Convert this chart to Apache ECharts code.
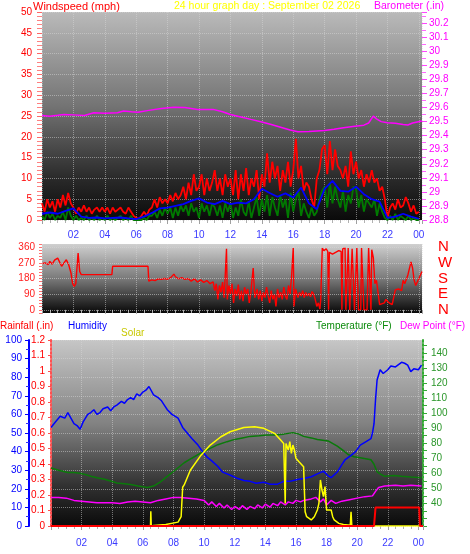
<!DOCTYPE html>
<html><head><meta charset="utf-8">
<script src="https://cdn.jsdelivr.net/npm/echarts@6/dist/echarts.min.js"></script>
<style>html,body{margin:0;padding:0;background:#fff}#c{width:470px;height:554px}</style>
</head><body><div id="c"></div><script>
// ---- data ----
// wind gust, sampled every 10 minutes from 00:00 to 24:00
const gustStepHours = 1/6;
const windGust = [
 4,2,5,3,4.5,2,  5,3,6,3.5,6.5,4,  3,1.5,3,2,3.5,2,  3,1.5,2.5,3,2,3,
 2,3,1.5,3,2,2.5,  3,2,1.5,3,2,1,  0.5,0.3,1,2,1,2.5,  3,5,3,5.5,4,5,
 4,6,4.5,6.5,5,6,  8,5,9,6,11,7,  8,11,6,10,7,9,  12,7,10,6,11,8,
 10,6,12,5,11,7,  12.5,6,10,8,12,5,  11,8,16,9,14,10,  13,7,12,9,14,8,
 12,19.5,10,13,7,9,  8,5,3,10,12,17,  18,11,19,12,17,13,  12,10,13,8,16.5,11,
 14,10,12,8,11,9,  12,9,10,7,8,5,  0.5,3,4,2.5,5,3,  3.5,5.5,4,2,3.5,1.5,  2];
// wind speed (green), every 10 minutes
const windSpeed = [
 1,0,2,0.5,1.5,0,  1,0.5,2,0,3,1,  0,1,0,0.5,0,1,  0,0.5,0,1,0,0.5,
 0,1,0,0.5,0,0.5,  1,0,0.5,0,1,0,  0,0,0,0.5,0,1,  1,2,0.5,2.5,1,3,
 1.5,3,0.5,3,1,3.5,  2,3.5,1,4,2,3,  0.5,4,2,3.5,1,4,  3,1,3.5,0.5,4,2,
 4,0.5,3,1,5,2,  1,4.5,0.5,3,5.5,1,  5,2,6,1,5.5,3,  1,6,3,5,0.5,6.5,
 2,5,7,1,4,2,  0.5,3,1,2,5,7,  8,3,9,4,8,5,  3,7,2,6,4,8,
 7.5,3,6,2,5,4,  3,5,1,4,2,0.5,  0,1,0,1.5,0,1,  0.5,0,1,0,0.5,0,  0];
// wind average (blue), every 30 minutes
const avgStepHours = 0.5;
const windAvg = [1.5,1.8,1.5,2.2,2.8,0.8,0.5,0.6,0.4,0.5,0.6,0.4,0.2,0.8,1.7,2.8,3.0,3.4,3.8,4.6,
 5.2,4.2,3.8,4.6,3.8,4.2,4.0,5.0,7.5,6.5,5.6,6.4,5.4,7.8,4.0,2.6,7.5,9.4,7.0,6.8,
 8.0,6.2,5.0,4.4,0.5,0.8,1.5,0.8,0.3];
const baroHours = [0,0.5,1,1.4,2,2.7,3.3,4,4.8,5.2,5.7,6.1,6.8,7.6,8.4,9.1,9.9,10.9,11.5,12,12.6,13.3,14,14.6,15.2,15.8,16.3,17,18,18.6,19.2,19.8,20.5,20.8,21.1,21.3,21.6,22,22.5,23,23.3,23.6,24.2];
const baroValues = [29.544,29.539,29.545,29.551,29.548,29.544,29.563,29.56,29.563,29.575,29.57,29.567,29.58,29.594,29.603,29.6,29.587,29.587,29.57,29.551,29.535,29.516,29.498,29.48,29.46,29.44,29.428,29.43,29.437,29.445,29.456,29.465,29.475,29.49,29.539,29.52,29.5,29.492,29.488,29.48,29.476,29.49,29.504];
const dirHours = [0,0.2,0.4,0.5,0.65,0.8,1.0,1.1,1.25,1.4,1.55,1.7,1.85,1.95,2.05,2.15,2.3,2.4,2.5,4.45,4.5,6.75,
 6.8,7.0,7.2,7.4,7.6,7.8,8.0,8.2,8.4,8.5,8.7,8.9,9.1,9.3,9.5,9.7,9.9,10.1,10.3,10.5,10.7,10.9,11.0,11.1,11.2,11.3,11.4,11.5,11.6,11.75,11.8,11.9,
 12.0,12.1,12.2,12.3,12.4,12.5,12.6,12.7,12.8,12.9,13.0,13.1,13.2,13.3,13.45,13.55,13.7,13.8,13.9,14.0,14.1,14.2,14.3,14.4,14.5,14.6,14.7,14.8,14.9,
 15.0,15.1,15.2,15.3,15.4,15.5,15.6,15.7,15.8,15.9,16.0,16.05,16.15,16.3,16.4,16.5,16.6,16.7,16.8,16.9,17.0,17.1,17.2,17.3,17.4,17.5,17.6,17.7,17.75,
 17.85,17.95,18.1,18.2,18.25,18.3,18.5,18.7,18.9,19.05,19.1,19.15,19.3,19.35,19.45,19.5,19.6,19.7,19.75,19.85,19.9,20.0,20.05,20.15,20.3,20.35,20.45,20.5,
 20.7,20.75,20.8,20.9,20.95,21.0,21.1,21.2,21.3,21.4,21.5,21.6,21.8,21.9,22.0,22.1,22.3,22.5,22.7,22.9,23.0,23.1,23.3,23.5,23.6,23.7,23.8,23.9,24.0,24.2];
const dirValues = [265,270,260,278,262,285,297,300,250,270,288,259,210,150,135,150,326,220,202,202,250,250,
 165,172,168,178,175,180,176,185,205,190,178,185,175,180,165,178,160,172,158,168,150,160,110,150,60,140,100,160,70,350,60,140,
 90,150,40,120,80,145,60,110,50,130,90,120,40,100,240,70,120,60,110,50,100,70,130,80,40,110,60,90,20,
 120,70,100,60,130,80,60,140,90,200,355,20,120,70,100,80,110,70,100,80,95,75,105,90,60,20,40,5,60,
 355,340,350,335,0,330,320,330,340,335,0,350,355,0,0,355,0,0,350,350,0,5,355,0,0,355,355,0,
 0,0,355,355,0,345,300,150,170,100,30,20,40,60,65,40,30,115,120,110,170,150,200,275,240,170,140,160,165,220];
const humHours = [0,0.3,0.6,0.9,1.1,1.3,1.5,1.7,1.9,2.1,2.4,2.6,2.8,3.0,3.2,3.4,3.7,3.9,4.1,4.3,4.6,4.8,5.0,5.2,5.4,5.6,5.8,6.0,6.2,6.4,6.5,6.7,7.0,7.2,7.4,7.6,7.9,8.3,8.6,8.9,9.2,9.6,9.9,10.2,10.5,10.9,11.2,11.5,11.8,12.2,12.6,13.0,13.4,13.9,14.3,14.8,15.2,15.6,16.1,16.5,17.0,17.4,17.8,18.1,18.3,18.7,19.0,19.2,19.6,19.9,20.2,20.5,20.9,21.0,21.1,21.2,21.3,21.5,21.7,21.8,22.0,22.2,22.5,22.9,23.1,23.3,23.5,23.7,24.0,24.2];
const humValues = [53,56,59,58,61,58,55,54,52,56,60,61,62.5,60,61,63,64,62,64,65,67,66,68,69,68,71,70,72,73,75,74,70.5,69,67.5,65,62.5,60,58,53,50,47,43.5,40,37,35,32,29,28,27,25.5,24.5,24,23,23.5,22.5,22.5,24,24,25,25.5,26.5,28,29.5,27,26,29,33,35.5,38,40,43.5,45,47,50,55,68,78.5,84,82,81,84,86,85.5,88,87.5,86.5,83,84.5,84,86.5];
const tempHours = [0,0.5,1.1,1.5,1.9,2.3,2.6,3.0,3.5,4.0,4.3,4.8,5.2,5.7,6.3,6.7,7.1,7.6,8.1,8.7,9.2,9.8,10.3,10.9,11.5,12.0,12.5,13.0,13.6,14.1,14.6,15.2,15.8,16.2,16.5,17.0,17.4,18.1,18.7,19.1,19.4,19.8,20.2,20.9,21.1,21.3,21.6,21.8,22.4,22.9,23.5,24.2];
const tempValues = [63.5,62,60.5,60.5,60,59,58,57,56,54.5,53.5,53,52.5,51.5,50.5,51.5,54,58,62,67,70,73.5,76,79,81,82.5,83.5,84.5,85,85.5,85.5,86,87,86,84.5,83.5,82.5,81.5,78,75,72.5,71,70.3,69,66,61,59,58,58.5,58,57.5,57];
const dewHours = [0,0.5,1,1.5,2,2.5,3,3.5,4,4.5,5,5.5,6,6.5,7,7.5,8,8.5,9,9.5,10,10.3,10.5,10.8,11,11.3,11.5,11.8,12,12.3,12.5,12.8,13,13.3,13.5,13.8,14,14.3,14.5,14.8,15,15.3,15.5,15.8,16,16.3,16.5,17,17.3,17.6,17.8,18,18.3,18.6,19,19.5,20,20.5,21,21.2,21.4,21.8,22.5,23,23.5,24.2];
const dewValues = [44,44,43.5,42,41.5,41,40.5,40.5,40.5,40,41,41.5,41,40.5,42,43,44,44,43.5,43,42,39,41,38,40,37,39,36,38,36,38.5,36,38,36.5,39,37,39.5,37.5,40,38.5,41,39,41,40,42,41,42,43,44,41,43,39,42,40,41.5,42.5,43.5,44.5,45,48,50.5,51.5,52,51.5,52,51.5];
const solarHours = [0,6.5,6.52,6.55,6.7,7.5,8.3,8.5,8.6,8.7,9.1,9.8,10.4,11.1,11.7,12.6,13.3,13.9,14.6,15.0,15.2,15.3,15.35,15.5,15.6,15.7,15.8,15.9,16.0,16.2,16.5,16.6,16.7,17.0,17.2,17.4,17.5,17.6,17.7,17.8,17.9,18.0,18.3,18.4,18.5,18.8,19.1,19.55,19.6,19.65,24.2];
const solarValues = [0,0,95,0,3,10,25,60,250,265,360,457,522,576,608,636,640,630,598,555,533,146,533,490,544,469,522,490,437,415,383,92,60,39,60,103,146,297,232,189,254,103,103,60,39,17,10,5,92,0,0];
const rainHours = [0,21.1,21.2,24.05,24.1,24.3];
const rainValues = [0,0,0.12,0.12,0,0];

// ---- helpers ----
const zip = (xs, ys) => xs.map((x, i) => [x, ys[i]]);
const stepped = (vals, step) => vals.map((v, i) => [i * step, v]);
const hourFmt = v => String(Math.round(v) % 24).padStart(2, '0');
const FONT = 'Liberation Sans, Arial, sans-serif';
const grad = stops => ({type:'linear', x:0, y:0, x2:0, y2:1, colorStops: stops.map(s => ({offset:s[0], color:s[1]}))});
const gridLine = {show:true, lineStyle:{color:'rgba(215,215,215,0.5)', type:'dotted', width:1}};

function xAx(gi, max, showLabel, margin) {
  return {type:'value', gridIndex:gi, min:0, max:max, interval:2,
    axisLine:{show:false},
    axisTick:{show:true, length:4, lineStyle:{color:'#a0a0a0'}},
    minorTick:{show:true, splitNumber:4, length:3, lineStyle:{color:'#b0b0b0'}},
    axisLabel:{show:showLabel, showMinLabel:false, showMaxLabel:false, color:'#3a3aff', fontSize:10, fontFamily:FONT, margin:margin, formatter:hourFmt},
    splitLine:gridLine};
}

const chart = echarts.init(document.getElementById('c'), null, {renderer:'canvas'});
const txt = (left, top, text, color, size) => ({type:'text', left, top, style:{text, fill:color, font:`${size}px ${FONT}`}});
chart.setOption({
  animation:false,
  backgroundColor:'#ffffff',
  textStyle:{fontFamily:FONT},
  graphic:[
    txt(33, 1, 'Windspeed (mph)', '#ff0000', 11),
    txt(174, 1, '24 hour graph day : September 02 2026', '#ffff00', 10.5),
    txt(374, 1, 'Barometer (.in)', '#ff00ff', 10.5),
    txt(0, 321, 'Rainfall (.in)', '#ff0000', 10),
    txt(68, 321, 'Humidity', '#0000ff', 10),
    txt(121, 328, 'Solar', '#c8c800', 10),
    txt(316, 321, 'Temperature (°F)', '#0a8a0a', 10),
    txt(400, 321, 'Dew Point (°F)', '#ff00ff', 10)
  ],
  grid:[
    {left:42, width:380, top:12, height:208, show:true, borderWidth:0,
     backgroundColor:grad([[0,'#bababa'],[0.45,'#747474'],[0.8,'#2a2a2a'],[1,'#0a0a0a']])},
    {left:42, width:380, top:244, height:69, show:true, borderWidth:0,
     backgroundColor:grad([[0,'#d0d0d0'],[0.5,'#7a7a7a'],[1,'#080808']])},
    {left:51, width:372, top:340, height:186, show:true, borderWidth:0,
     backgroundColor:grad([[0,'#c6c6c6'],[0.45,'#828282'],[0.78,'#323232'],[1,'#0a0a0a']])}
  ],
  xAxis:[ xAx(0, 24.2, true, 10), xAx(1, 24.2, false, 8), xAx(2, 24.3, true, 12) ],
  yAxis:[
    {type:'value', gridIndex:0, position:'left', min:0, max:50, interval:5,
     axisLine:{show:false},
     axisTick:{show:true, length:5, lineStyle:{color:'#ff6666'}},
     minorTick:{show:true, splitNumber:5, length:5, lineStyle:{color:'#ff8080'}},
     axisLabel:{color:'#ff0000', fontSize:10, margin:10},
     splitLine:gridLine},
    {type:'value', gridIndex:0, position:'right', min:28.8, max:30.28, interval:0.1,
     axisLine:{show:false},
     axisTick:{show:true, length:5, lineStyle:{color:'#ff44ff'}},
     minorTick:{show:true, splitNumber:2, length:4, lineStyle:{color:'#ff66ff'}},
     axisLabel:{color:'#ff00ff', fontSize:10, margin:7, showMaxLabel:false},
     splitLine:{show:false}},
    {type:'value', gridIndex:1, position:'left', min:-18, max:378, interval:18,
     axisLine:{show:false},
     axisTick:{show:true, length:3, lineStyle:{color:'#ff7070'}},
     axisLabel:{color:'#ff2020', fontSize:10, margin:7, formatter:v => (v >= 0 && v <= 360 && v % 90 === 0) ? String(v) : ''},
     splitLine:{show:false}},
    {type:'value', gridIndex:1, position:'right', min:-18, max:378, interval:18,
     axisLine:{show:false}, axisTick:{show:false},
     axisLabel:{color:'#ff0000', fontSize:15, margin:16, formatter:v => ({0:'N',90:'E',180:'S',270:'W',360:'N'})[v] || ''},
     splitLine:{show:false}},
    {type:'value', gridIndex:2, position:'left', min:0, max:1.2, interval:0.1,
     axisLine:{show:true, lineStyle:{color:'#ff5050', type:'dotted', width:2}},
     axisTick:{show:true, length:3, lineStyle:{color:'#ff5050'}},
     axisLabel:{color:'#ff0000', fontSize:10, margin:6},
     splitLine:{show:false}},
    {type:'value', gridIndex:2, position:'left', offset:22, min:0, max:100, interval:10,
     axisLine:{show:true, lineStyle:{color:'#0000ff', width:2}},
     axisTick:{show:true, length:4, lineStyle:{color:'#0000ff'}},
     minorTick:{show:true, splitNumber:2, length:3, lineStyle:{color:'#3030ff'}},
     axisLabel:{color:'#0000ff', fontSize:10, margin:7},
     splitLine:gridLine},
    {type:'value', gridIndex:2, position:'right', min:25, max:148.5, interval:5,
     axisLine:{show:true, lineStyle:{color:'#33aa33', type:'dotted', width:2}},
     axisTick:{show:true, length:4, lineStyle:{color:'#33aa33'}},
     axisLabel:{color:'#2a962a', fontSize:10, margin:8, showMaxLabel:false,
       formatter:v => (v % 10 === 0 && v >= 40 && v <= 140) ? String(v) : ''},
     splitLine:{show:false}},
    {type:'value', gridIndex:2, position:'right', min:0, max:1200, show:false}
  ],
  series:[
    {type:'line', xAxisIndex:0, yAxisIndex:1, data:zip(baroHours, baroValues), symbol:'none', lineStyle:{color:'#ff00ff', width:1.5}},
    {type:'line', xAxisIndex:0, yAxisIndex:0, data:stepped(windGust, gustStepHours), symbol:'none', lineStyle:{color:'#ff0000', width:1.8}},
    {type:'line', xAxisIndex:0, yAxisIndex:0, data:stepped(windSpeed, gustStepHours), symbol:'none', lineStyle:{color:'#007a00', width:1.8}},
    {type:'line', xAxisIndex:0, yAxisIndex:0, data:stepped(windAvg, avgStepHours), symbol:'none', lineStyle:{color:'#0000ff', width:1.8}},
    {type:'line', xAxisIndex:1, yAxisIndex:2, data:zip(dirHours, dirValues), symbol:'none', lineStyle:{color:'#ff0000', width:1.4},
     markLine:{silent:true, symbol:'none', label:{show:false},
       lineStyle:{color:'rgba(215,215,215,0.55)', type:'dotted', width:1},
       data:[{yAxis:0},{yAxis:90},{yAxis:180},{yAxis:270},{yAxis:360}]}},
    {type:'line', xAxisIndex:2, yAxisIndex:6, data:zip(tempHours, tempValues), symbol:'none', lineStyle:{color:'#0a7a0a', width:1.5}},
    {type:'line', xAxisIndex:2, yAxisIndex:6, data:zip(dewHours, dewValues), symbol:'none', lineStyle:{color:'#ff00ff', width:1.5}},
    {type:'line', xAxisIndex:2, yAxisIndex:5, data:zip(humHours, humValues), symbol:'none', lineStyle:{color:'#0000ff', width:1.5}},
    {type:'line', xAxisIndex:2, yAxisIndex:7, data:zip(solarHours, solarValues), symbol:'none', lineStyle:{color:'#ffff00', width:1.5}},
    {type:'line', xAxisIndex:2, yAxisIndex:4, data:zip(rainHours, rainValues), symbol:'none', lineStyle:{color:'#ff0000', width:2}}
  ]
});
</script></body></html>
